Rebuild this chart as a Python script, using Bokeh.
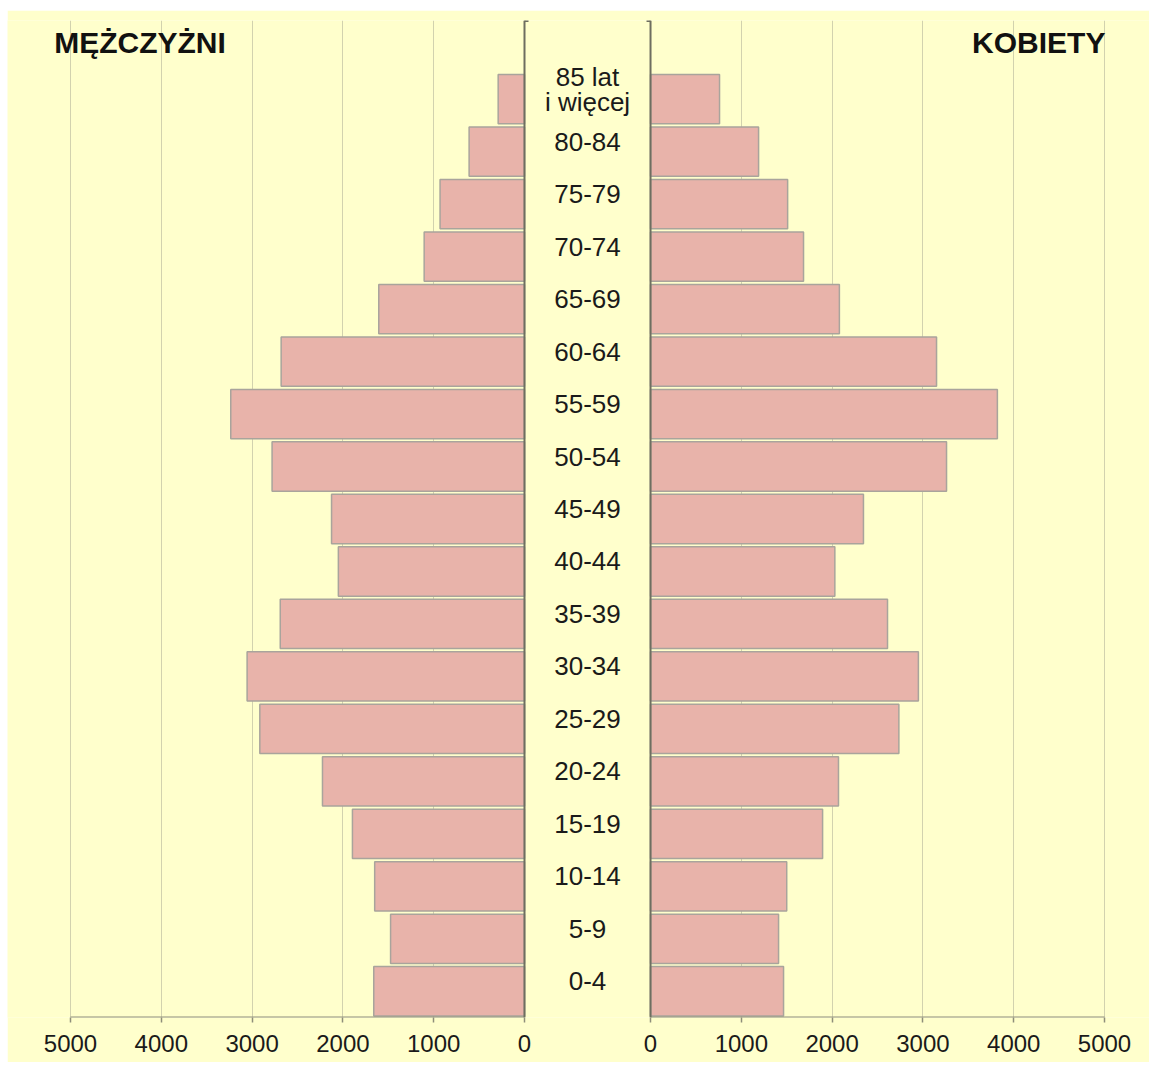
from bokeh.plotting import figure
from bokeh.models import (ColumnDataSource, Range1d, FixedTicker, Label,
                          LinearAxis, Grid, Span)
from bokeh.core.properties import value
from bokeh.embed import file_html
from bokeh.resources import INLINE

# ---------------- data ----------------
AGE_GROUPS = ["0-4", "5-9", "10-14", "15-19", "20-24", "25-29", "30-34",
              "35-39", "40-44", "45-49", "50-54", "55-59", "60-64", "65-69",
              "70-74", "75-79", "80-84", "85 lat\ni więcej"]
MEN = [1660, 1475, 1650, 1895, 2225, 2915, 3055, 2690, 2050, 2125,
       2780, 3235, 2680, 1605, 1105, 930, 610, 290]
WOMEN = [1465, 1410, 1500, 1895, 2070, 2735, 2950, 2610, 2030, 2345,
         3260, 3820, 3150, 2080, 1685, 1510, 1190, 760]
X_TICKS = [0, 1000, 2000, 3000, 4000, 5000]
X_MAX = 5000
TITLE_MEN = "MĘŻCZYŻNI"
TITLE_WOMEN = "KOBIETY"

# ---------------- style / layout ----------------
BG = "#FFFFCC"
BAR_FILL = "#E8B3AA"
BAR_LINE = "#A9A49C"
GRID = "#D2D2AE"
AXIS = "#8E8E7A"
CENTER_LINE = "#6E6E60"
TEXT = "#1A1A1A"
FONT = "Liberation Sans"

W, H = 1142, 1052          # figure size (frame spans the full width)
TOP, BOTTOM = 10, 45       # borders above / below the frame
LEFT_PAD = 63              # px from frame left to the men's 5000 tick
PANEL_W = 454              # px for 0..5000 on each side
UPP = X_MAX / PANEL_W      # data units per pixel
GAP = 1388                 # width of the central label band, in data units

men_start = X_MAX + LEFT_PAD * UPP
men_range = Range1d(men_start, men_start - W * UPP)
women_start = -(X_MAX + GAP) - LEFT_PAD * UPP
women_range = Range1d(women_start, women_start + W * UPP)
band_center = -GAP / 2

src = ColumnDataSource(dict(
    y=list(range(len(AGE_GROUPS))),
    age=AGE_GROUPS,
    men=MEN,
    women=WOMEN,
))
n = len(AGE_GROUPS)

p = figure(width=W, height=H, x_range=women_range, y_range=Range1d(-0.5, n + 0.5),
           output_backend="svg", toolbar_location=None,
           x_axis_location="below", y_axis_location=None,
           min_border_left=0, min_border_right=0,
           min_border_top=TOP, min_border_bottom=BOTTOM)
p.margin = (10, 0, 0, 7)
p.extra_x_ranges = {"men": men_range}
p.background_fill_color = BG
p.border_fill_color = BG
p.outline_line_color = None

# one tick axis for both halves: women ticks as is, men ticks mirrored
men_tick_pos = [-(GAP + v) for v in X_TICKS]
ax = p.xaxis[0]
ax.ticker = FixedTicker(ticks=X_TICKS + men_tick_pos)
ax.major_label_overrides = {pos: str(v) for pos, v in zip(men_tick_pos, X_TICKS)}
ax.axis_line_color = None
ax.major_tick_line_color = AXIS
ax.major_tick_line_width = 1.5
ax.major_tick_out = 5
ax.major_tick_in = 0
ax.minor_tick_line_color = None
ax.major_label_standoff = 12
ax.major_label_text_font = FONT
ax.major_label_text_font_size = "24px"
ax.major_label_text_color = TEXT

# axis rules, one per half
for rname in ("default", "men"):
    rule = LinearAxis(x_range_name=rname, fixed_location=-0.5,
                      bounds=(0, X_MAX), ticker=FixedTicker(ticks=[]),
                      axis_line_color=AXIS, axis_line_width=2,
                      major_tick_line_color=None, minor_tick_line_color=None)
    p.add_layout(rule, "below")

# grids
p.xgrid.ticker = FixedTicker(ticks=X_TICKS)
p.xgrid.grid_line_color = GRID
p.ygrid.visible = False
p.add_layout(Grid(dimension=0, ticker=FixedTicker(ticks=X_TICKS),
                  x_range_name="men", grid_line_color=GRID))

# bars
p.hbar(y="y", left=0, right="men", height=0.94, source=src, x_range_name="men",
       fill_color=BAR_FILL, line_color=BAR_LINE, line_width=1.5)
p.hbar(y="y", left=0, right="women", height=0.94, source=src,
       fill_color=BAR_FILL, line_color=BAR_LINE, line_width=1.5)

# central vertical lines with their small top ticks
p.add_layout(Span(location=0, dimension="height", x_range_name="men",
                  line_color=CENTER_LINE, line_width=2))
p.add_layout(Span(location=0, dimension="height",
                  line_color=CENTER_LINE, line_width=2))
stub = 4 * UPP
p.segment(x0=0, y0=n + 0.5, x1=-stub, y1=n + 0.5, x_range_name="men",
          line_color=CENTER_LINE, line_width=3)
p.segment(x0=0, y0=n + 0.5, x1=-stub, y1=n + 0.5,
          line_color=CENTER_LINE, line_width=3)

# age labels in the central band
p.text(x=band_center, y="y", text="age", source=src, y_offset=-10,
       text_font=value(FONT), text_font_size=value("26px"),
       text_color=TEXT, text_align="center", text_baseline="middle",
       text_line_height=0.84)

# titles
p.add_layout(Label(x=5180, y=n + 0.08, x_range_name="men", text=TITLE_MEN,
                   text_font=FONT, text_font_size="30px",
                   text_font_style="bold", text_color="#111111",
                   text_align="left", text_baseline="middle"))
p.add_layout(Label(x=5010, y=n + 0.08, text=TITLE_WOMEN,
                   text_font=FONT, text_font_size="30px",
                   text_font_style="bold", text_color="#111111",
                   text_align="right", text_baseline="middle"))

open("out.html", "w").write(file_html(p, INLINE))
